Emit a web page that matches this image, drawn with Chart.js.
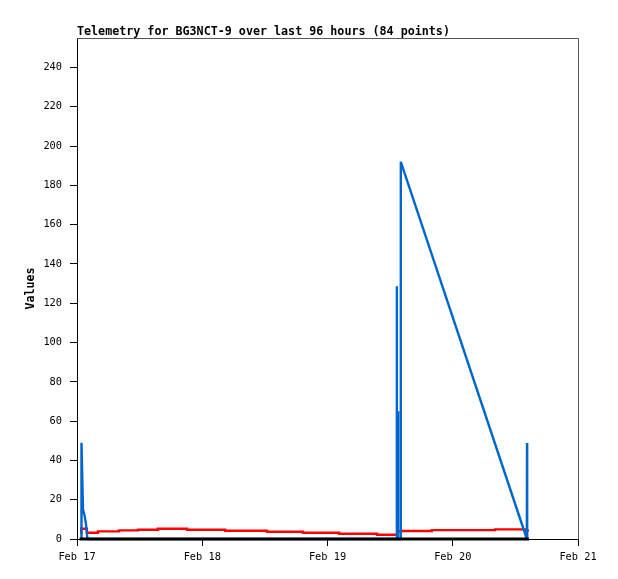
<!DOCTYPE html>
<html lang="en">
<head>
<meta charset="UTF-8">
<title>Telemetry for BG3NCT-9</title>
<script src="https://cdn.jsdelivr.net/npm/chart.js"></script>
<style>
  html, body { margin: 0; padding: 0; background: #fff; }
  #wrap { width: 618px; height: 579px; }
</style>
</head>
<body>
<div id="wrap"><canvas id="telemetry" width="618" height="579"></canvas></div>
<script>
// x values are hours since Feb 17 00:00
const chartTitle = 'Telemetry for BG3NCT-9 over last 96 hours (84 points)';
const dayLabels = ['Feb 17', 'Feb 18', 'Feb 19', 'Feb 20', 'Feb 21'];
const yTicks = [0, 20, 40, 60, 80, 100, 120, 140, 160, 180, 200, 220, 240];

const blackHours = [0.5, 86.6];
const blackValues = [0, 0];

const redHours = [0.71, 0.8, 1.9, 4.0, 8.05, 11.7, 15.5, 21.1, 28.4, 36.4, 43.3, 50.2, 57.5, 61.5, 68.0, 80.1, 86.0, 86.6];
const redValues = [2.9, 5.2, 3.2, 3.9, 4.4, 4.7, 5.2, 4.7, 4.2, 3.7, 3.2, 2.7, 2.2, 4.1, 4.5, 4.9, 4.3, 4.3];

const blueHours = [0.82, 0.86, 1.15, 1.44, 1.72, 2.0, 61.26, 61.28, 61.3, 61.49, 61.51, 61.53, 62.03, 62.05, 86.2, 86.23, 86.26];
const blueValues = [0, 49, 15, 12, 7.6, 0, 0, 128.6, 0, 0, 65, 0, 0, 192, 0, 48.8, 0];

const mono = '"DejaVu Sans Mono", "Liberation Mono", monospace';

function pts(xs, ys) {
    return xs.map((x, i) => ({ x: x, y: ys[i] }));
}

const framePlugin = {
    id: 'frame',
    beforeDatasetsDraw(chart) {
        const { ctx, chartArea: a } = chart;
        ctx.save();
        ctx.strokeStyle = '#555';
        ctx.lineWidth = 1;
        ctx.beginPath();
        ctx.moveTo(a.left, a.top + 0.5);
        ctx.lineTo(a.right + 0.5, a.top + 0.5);
        ctx.lineTo(a.right + 0.5, a.bottom);
        ctx.stroke();
        ctx.restore();
    },
    afterDraw(chart) {
        const ctx = chart.ctx;
        ctx.save();
        ctx.font = 'bold 11.7px ' + mono;
        ctx.fillStyle = '#000';
        ctx.textBaseline = 'alphabetic';
        ctx.textAlign = 'left';
        ctx.fillText(chartTitle, chart.chartArea.left, 35);
        ctx.restore();
    }
};

new Chart(document.getElementById('telemetry'), {
    type: 'line',
    data: {
        datasets: [
            {
                label: 'zero',
                data: pts(blackHours, blackValues),
                borderColor: '#000',
                borderWidth: 3,
                order: 0
            },
            {
                label: 'blue',
                data: pts(blueHours, blueValues),
                borderColor: '#0066cc',
                borderWidth: 2.4,
                borderJoinStyle: 'bevel',
                order: 1
            },
            {
                label: 'red',
                data: pts(redHours, redValues),
                borderColor: '#ff0000',
                borderWidth: 2.4,
                stepped: true,
                order: 2
            }
        ]
    },
    options: {
        responsive: false,
        animation: false,
        clip: false,
        elements: { point: { radius: 0 }, line: { tension: 0 } },
        layout: { padding: { top: 38, right: 40, left: 0, bottom: 0 } },
        plugins: {
            legend: { display: false },
            tooltip: { enabled: false }
        },
        scales: {
            x: {
                type: 'linear',
                min: 0,
                max: 96,
                afterBuildTicks: s => { s.ticks = dayLabels.map((_, i) => ({ value: i * 24 })); },
                afterFit: s => { s.height = 40; },
                grid: { drawOnChartArea: false, tickLength: 7, color: '#000' },
                border: { color: '#000', width: 1 },
                ticks: {
                    autoSkip: false,
                    maxRotation: 0,
                    padding: 5,
                    color: '#000',
                    font: { family: mono, size: 10.3 },
                    callback: v => dayLabels[Math.round(v / 24)]
                }
            },
            y: {
                min: 0,
                max: 255,
                afterBuildTicks: s => { s.ticks = yTicks.map(v => ({ value: v })); },
                afterFit: s => { s.width = 77; },
                grid: { drawOnChartArea: false, tickLength: 7, color: '#000' },
                border: { color: '#000', width: 1 },
                ticks: {
                    padding: 8,
                    color: '#000',
                    font: { family: mono, size: 10.3 }
                },
                title: {
                    display: true,
                    text: 'Values',
                    color: '#000',
                    font: { family: mono, size: 11.7, weight: 'bold' },
                    padding: { top: 24, bottom: 0 }
                }
            }
        }
    },
    plugins: [framePlugin]
});
</script>
</body>
</html>
